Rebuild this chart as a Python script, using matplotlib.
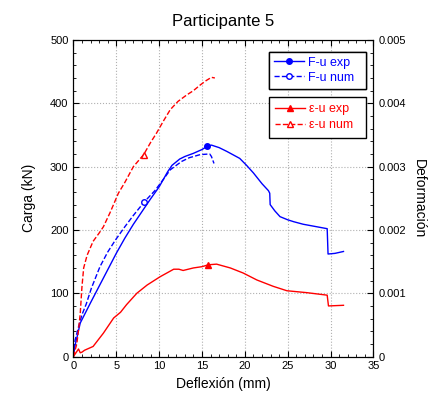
import matplotlib
matplotlib.use('Agg')
import matplotlib.pyplot as plt
from matplotlib.ticker import MultipleLocator, FuncFormatter

plt.rcParams['font.family'] = ['Liberation Sans', 'DejaVu Sans']

# F-u experimental (kN vs mm)
fu_exp_x = [0, 0.2, 0.5, 0.8, 2, 3, 4, 5, 6, 7, 8, 9, 10, 11, 11.5, 12.4, 13, 14, 15,
            15.6, 16.1, 17, 17.9, 19.4, 20.2, 21, 22, 22.75, 22.9, 22.95, 23.5, 24.1,
            25, 25.7, 26.8, 28, 29.6, 29.7, 30.5, 31.5]
fu_exp_y = [0, 18, 35, 53, 85, 111, 137, 163, 187, 209, 229, 249, 268, 292, 302, 312,
            316, 321, 327, 332, 334, 330, 324, 313, 302, 290, 273, 262, 258, 240, 230,
            221, 216, 213, 209, 206, 202, 162, 163, 166]

# F-u numerico
fu_num_x = [0, 0.2, 0.6, 1, 1.5, 2.1, 3.1, 4, 4.9, 6, 7, 8.25, 9.5, 10.5, 11.3, 12.6,
            13.5, 14.8, 15.9, 16.1, 16.4]
fu_num_y = [0, 26, 47, 66, 83, 108, 142, 165, 184, 205, 223, 244, 262, 280, 295, 308,
            314, 319, 320, 316, 305]

# deformacion experimental
eu_exp_x = [0, 0.3, 0.6, 0.8, 1.0, 1.3, 2.3, 3.5, 4.7, 5.5, 6.2, 7.4, 8.6, 10.1, 11.7,
            12.3, 12.8, 14, 15, 15.75, 16.7, 17.5, 18.3, 19.8, 21.4, 23.3, 24.9, 27.2,
            29.6, 29.75, 31.5]
eu_exp_y = [0, 0.00006, 0.00012, 0.00006, 0.00007, 0.0001, 0.00016, 0.00037, 0.00061,
            0.0007, 0.00082, 0.001, 0.00113, 0.00126, 0.00138, 0.00138, 0.00136, 0.0014,
            0.00142, 0.00145, 0.00146, 0.00143, 0.0014, 0.00132, 0.00121, 0.00111,
            0.00104, 0.00101, 0.00097, 0.0008, 0.00081]

# deformacion numerica
eu_num_x = [0, 0.4, 0.6, 0.8, 1, 1.2, 1.6, 2.3, 3, 3.5, 4.3, 5.25, 6, 7, 8.2, 9, 9.7,
            10.5, 11.3, 12.2, 13.2, 14, 14.8, 15.5, 16.1, 16.5]
eu_num_y = [0, 0.0002, 0.00042, 0.00068, 0.0011, 0.0014, 0.0016, 0.00182, 0.00195,
            0.00205, 0.00228, 0.00258, 0.00275, 0.003, 0.00319, 0.00338, 0.00353,
            0.00372, 0.0039, 0.00403, 0.00413, 0.0042, 0.00429, 0.00436, 0.00441, 0.0044]


def style_axis(ax):
    ax.tick_params(which='both', direction='in', labelsize=8)
    ax.tick_params(which='major', length=4)
    ax.tick_params(which='minor', length=2)


def boxed_legend(axis, handles, color, anchor, pad, spacing):
    leg = axis.legend(handles=handles, loc='upper left', bbox_to_anchor=anchor,
                      mode='expand', borderaxespad=0, fontsize=9, frameon=True,
                      fancybox=False, edgecolor='black', framealpha=1,
                      handlelength=2.4, borderpad=pad, labelspacing=spacing,
                      handletextpad=0.3)
    leg.get_frame().set_linewidth(1)
    for t in leg.get_texts():
        t.set_color(color)
    return leg


fig = plt.figure(figsize=(4.42, 4.08), dpi=100)
ax = fig.add_axes([0.166, 0.126, 0.679, 0.776])
ax2 = ax.twinx()

l1, = ax.plot(fu_exp_x, fu_exp_y, '-', color='blue', lw=1, marker='o', ms=4,
              markevery=[fu_exp_x.index(15.6)], label='F-u exp')
l2, = ax.plot(fu_num_x, fu_num_y, '--', color='blue', lw=1, marker='o', ms=4,
              mfc='white', markevery=[fu_num_x.index(8.25)], label='F-u num')
l3, = ax2.plot(eu_exp_x, eu_exp_y, '-', color='red', lw=1, marker='^', ms=5,
               markevery=[eu_exp_x.index(15.75)], label='ε-u exp')
l4, = ax2.plot(eu_num_x, eu_num_y, '--', color='red', lw=1, marker='^', ms=5,
               mfc='white', markevery=[eu_num_x.index(8.2)], label='ε-u num')

ax.set_xlim(0, 35)
ax.set_ylim(0, 500)
ax2.set_ylim(0, 0.005)
ax.xaxis.set_major_locator(MultipleLocator(5))
ax.xaxis.set_minor_locator(MultipleLocator(1))
ax.yaxis.set_major_locator(MultipleLocator(100))
ax.yaxis.set_minor_locator(MultipleLocator(20))
ax2.yaxis.set_major_locator(MultipleLocator(0.001))
ax2.yaxis.set_minor_locator(MultipleLocator(0.0002))
ax2.yaxis.set_major_formatter(FuncFormatter(lambda v, p: '%g' % round(v, 6)))
ax.tick_params(top=True, which='both')
style_axis(ax)
style_axis(ax2)
ax.grid(True, which='major', color='#b0b0b0', linestyle=':', linewidth=0.8)

ax.set_xlabel('Deflexión (mm)', fontsize=10)
ax.set_ylabel('Carga (kN)', fontsize=10, labelpad=10)
ax2.set_ylabel('Deformación', fontsize=10, rotation=270, labelpad=14)
ax.set_title('Participante 5', fontsize=12, pad=10)

leg1 = boxed_legend(ax, [l1, l2], 'blue', (0.652, 0.845, 0.323, 0.118), 0.4, 0.25)
ax.add_artist(leg1)
boxed_legend(ax2, [l3, l4], 'red', (0.652, 0.698, 0.323, 0.123), 0.5, 0.35)

plt.savefig('out.png', dpi=100)
